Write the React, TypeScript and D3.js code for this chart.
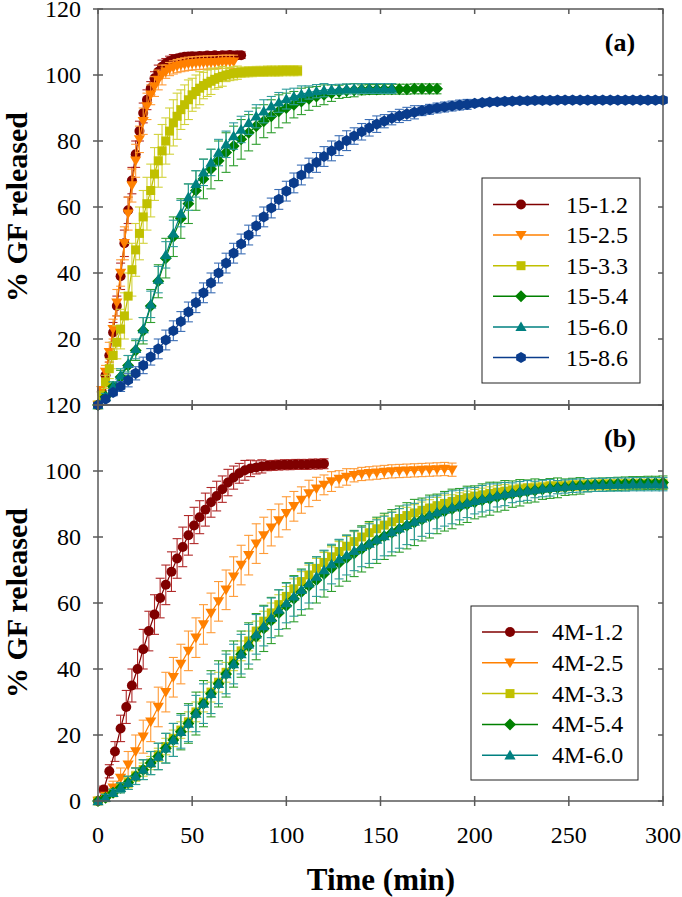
import React from "react";
import * as d3 from "d3";

// ---------- DATA ----------
const xTicks = [0, 50, 100, 150, 200, 250, 300];
const yTicks = [0, 20, 40, 60, 80, 100, 120];

// Panel (a) series – values at regular sampling intervals (min)
const step151 = 2;
const v151 = [0, 4, 9, 15, 22, 30, 39, 49, 59, 68, 76, 83, 88.5, 92.5, 96, 99, 101, 102.5, 103.5, 104.2, 104.7, 105, 105.3, 105.5, 105.6, 105.7, 105.6, 105.8, 105.7, 105.9, 105.8, 106, 105.8, 106, 105.9, 106.1, 105.9, 106, 106];
const e151 = [0, 1, 2, 2, 3, 3, 4, 4, 4, 4, 4, 3, 3, 3, 2, 2, 2, 2, 1.5, 1.5, 1.5, 1, 1, 1, 1, 1, 1, 1, 1, 1, 1, 1, 1, 1, 1, 1, 1, 1, 1];

const step152 = 2;
const v152 = [0, 4.5, 10, 16, 23, 31, 40, 49, 58, 66.5, 74, 80.5, 86, 90.5, 94, 96.5, 98.5, 100, 101, 101.8, 102.3, 102.7, 103, 103.2, 103.4, 103.5, 103.6, 103.7, 103.7, 103.8, 103.8, 103.9, 103.9, 104, 104, 104, 104];
const e152 = [0, 1, 2, 3, 3, 4, 4, 5, 5, 5, 5, 4, 4, 4, 3, 3, 3, 3, 2, 2, 2, 2, 2, 2, 2, 2, 2, 2, 2, 2, 2, 2, 2, 2, 2, 2, 2];

const step153 = 2;
const v153 = [0, 3, 7, 11, 15, 19, 23, 27, 33, 41, 47, 52, 57, 61, 65, 70, 74, 77, 80, 83, 85.5, 87.5, 89.5, 91, 92.5, 94, 95, 96, 96.8, 97.5, 98.1, 98.7, 99.2, 99.6, 100, 100.3, 100.5, 100.7, 100.8, 100.9, 101, 101, 101.1, 101.1, 101.1, 101.2, 101.2, 101.2, 101.2, 101.3, 101.3, 101.3, 101.3, 101.3];
const e153 = [0, 1, 2, 3, 4, 5, 6, 7, 7, 8, 8, 8, 8, 8, 8, 8, 8, 8, 7, 7, 7, 7, 6, 6, 6, 5, 5, 5, 4, 4, 4, 3, 3, 3, 2, 2, 2, 2, 1.5, 1.5, 1.5, 1.5, 1.5, 1.5, 1.5, 1.5, 1.5, 1.5, 1.5, 1.5, 1.5, 1.5, 1.5, 1.5];

const step154 = 4;
const v154 = [0, 2.5, 5.5, 8.5, 12, 16.5, 22.5, 30, 37.5, 44.5, 51, 56.5, 61, 65, 68.5, 71.5, 74, 76.5, 78.5, 80.5, 82.5, 84.5, 86, 87.5, 89, 90, 91, 92, 92.8, 93.5, 94, 94.5, 94.9, 95.2, 95.4, 95.5, 95.6, 95.6, 95.7, 95.7, 95.7, 95.7, 95.8, 95.8, 95.8, 95.8];
const e154 = [0, 1, 1.5, 2, 3, 3, 4, 5, 5, 6, 6, 6, 6, 6, 6, 6, 6, 6, 6, 6, 5.5, 5.5, 5, 5, 5, 4.5, 4, 4, 3.5, 3, 3, 2.5, 2, 2, 2, 1.5, 1.5, 1.5, 1.5, 1.5, 1.5, 1.5, 1.5, 1.5, 1.5, 1.5];

const step156 = 4;
const v156 = [0, 2.5, 5.5, 9, 12.5, 17, 23, 30.5, 38, 45.5, 52, 58, 63, 67, 70.5, 73.5, 76.5, 79, 81.5, 83.5, 85.5, 87.5, 89, 90.5, 91.7, 92.7, 93.5, 94.2, 94.7, 95.1, 95.4, 95.6, 95.7, 95.8, 95.8, 95.9, 95.9, 95.9, 95.9, 95.9];
const e156 = [0, 1, 1.5, 2, 2.5, 3, 3.5, 4, 4, 4, 4, 4, 4, 4, 4, 4, 4, 4, 4, 4, 3.5, 3.5, 3.5, 3, 3, 3, 2.5, 2.5, 2, 2, 2, 1.5, 1.5, 1.5, 1.5, 1.5, 1.5, 1.5, 1.5, 1.5];

const step158 = 4;
const v158 = [0, 1.8, 3.8, 5.6, 7.5, 9.6, 12, 14.6, 17, 19.7, 22.5, 25.3, 28.2, 31, 34, 37, 40, 43, 46, 48.8, 51.5, 54.3, 57, 59.7, 62.3, 64.8, 67.3, 69.7, 71.8, 73.5, 75.3, 77, 78.6, 80.1, 81.5, 82.8, 84, 85.1, 86, 86.9, 87.6, 88.2, 88.7, 89.2, 89.6, 90, 90.3, 90.6, 90.9, 91.1, 91.4, 91.6, 91.8, 91.9, 92, 92.1, 92.2, 92.2, 92.3, 92.3, 92.3, 92.4, 92.4, 92.4, 92.4, 92.4, 92.4, 92.4, 92.4, 92.4, 92.4, 92.4, 92.4, 92.4, 92.4, 92.4];
const e158 = [0, 0.5, 1, 1.5, 2, 2, 2.5, 2.5, 3, 3, 3, 3, 3, 3, 3, 3, 3, 3, 3, 3, 3, 3, 3, 3, 3, 3, 3, 3, 3, 3, 3, 3, 3, 3, 2.5, 2.5, 2.5, 2.5, 2, 2, 2, 2, 2, 1.5, 1.5, 1.5, 1.5, 1.5, 1.5, 1.5, 1, 1, 1, 1, 1, 1, 1, 1, 1, 1, 1, 1, 1, 1, 1, 1, 1, 1, 1, 1, 1, 1, 1, 1, 1, 1];

// Panel (b) series
const step4m12 = 3;
const v4m12 = [0, 3.5, 9, 15, 22, 28.5, 35, 40, 46, 51.5, 56.5, 61.5, 65.5, 69.5, 73.5, 77, 80.5, 83.5, 86, 88.3, 90.5, 92.4, 94.5, 96.5, 98, 99.3, 100.2, 100.8, 101.1, 101.4, 101.6, 101.7, 101.8, 101.9, 101.9, 102, 102, 102, 102.1, 102.1, 102.2];
const e4m12 = [0, 1, 2, 3, 4, 5, 5, 6, 6, 6, 6, 6, 6, 6, 6, 6, 6, 5.5, 5, 5, 4.5, 4.5, 4, 4, 3.5, 3, 3, 2.5, 2, 2, 1.5, 1.5, 1.5, 1.5, 1.5, 1.5, 1.5, 1.5, 1.5, 1.5, 1.5];

const step4m25 = 4;
const v4m25 = [0, 1.5, 4, 7, 11, 15, 19.5, 24, 28.5, 33, 37.5, 41.5, 45.5, 49.5, 53.5, 57, 60.5, 64, 68, 71.5, 74.5, 78, 80.5, 82.8, 85, 87.2, 89.3, 91.2, 93.2, 94.6, 95.8, 96.8, 97.6, 98.2, 98.7, 99.1, 99.3, 99.5, 99.7, 99.9, 100, 100.1, 100.2, 100.3, 100.4, 100.5, 100.6, 100.4];
const e4m25 = [0, 1, 2, 3, 4, 5, 5, 6, 6, 6, 6, 6, 6, 6, 6, 6, 6, 6, 6, 6, 6, 6, 5.5, 5.5, 5, 5, 4.5, 4, 4, 3.5, 3, 3, 2.5, 2.5, 2, 2, 2, 2, 2, 2, 2, 2, 2, 2, 2, 2, 2, 2];

const step4m33 = 4;
const v4m33 = [0, 1, 2.5, 4, 5.5, 7.5, 9.5, 11.5, 14, 16.5, 19, 21.5, 24, 27, 30, 33, 36, 39, 42.5, 45.5, 48.5, 51.5, 54.5, 57, 59.5, 62, 64.3, 66.5, 68.5, 70.5, 72.3, 74, 75.6, 77.2, 78.6, 80, 81.3, 82.5, 83.6, 84.6, 85.6, 86.5, 87.3, 88.1, 88.8, 89.5, 90.2, 90.8, 91.4, 91.9, 92.4, 92.8, 93.2, 93.6, 93.9, 94.2, 94.5, 94.7, 94.9, 95.1, 95.3, 95.4, 95.5, 95.6, 95.7, 95.8, 95.8, 95.9, 95.9, 96, 96, 96, 96, 96, 96, 96];
const e4m33 = [0, 0.5, 1, 1, 1.5, 1.5, 2, 2, 2, 2.5, 2.5, 2.5, 3, 3, 3, 3, 3, 3, 3, 3, 3, 3, 3, 3, 3, 3, 3, 3, 3, 3, 3, 3, 3, 3, 3, 3, 3, 3, 3, 3, 3, 2.5, 2.5, 2.5, 2.5, 2.5, 2.5, 2, 2, 2, 2, 2, 2, 2, 2, 1.5, 1.5, 1.5, 1.5, 1.5, 1.5, 1.5, 1.5, 1.5, 1.5, 1.5, 1.5, 1.5, 1.5, 1.5, 1.5, 1.5, 1.5, 1.5, 1.5, 1.5];

const step4m54 = 4;
const v4m54 = [0, 1, 2.5, 4, 5.5, 7.5, 9.5, 11.5, 13.5, 16, 18.5, 21, 23.5, 26.5, 29.5, 32.5, 35.5, 38.5, 41.5, 44.5, 47, 49.8, 52.3, 54.7, 57, 59.2, 61.3, 63.3, 65.2, 67, 68.8, 70.5, 72.1, 73.6, 75, 76.4, 77.7, 79, 80.2, 81.3, 82.4, 83.4, 84.4, 85.3, 86.2, 87, 87.8, 88.5, 89.2, 89.9, 90.5, 91.1, 91.6, 92.1, 92.6, 93, 93.4, 93.8, 94.1, 94.4, 94.7, 94.9, 95.1, 95.3, 95.5, 95.7, 95.8, 95.9, 96, 96.1, 96.2, 96.3, 96.3, 96.4, 96.4, 96.5];
const e4m54 = [0, 1, 1, 1.5, 2, 2.5, 3, 3.5, 4, 4.5, 5, 5.5, 6, 6.5, 7, 7, 7, 7, 7, 7, 7, 7, 7, 7, 7, 7, 7, 7, 7, 7, 7, 7, 7, 7, 7, 7, 7, 7, 7, 7, 7, 7, 7, 6.5, 6.5, 6, 6, 6, 5.5, 5.5, 5, 5, 5, 4.5, 4.5, 4, 4, 3.5, 3.5, 3, 3, 3, 2.5, 2.5, 2.5, 2, 2, 2, 2, 2, 2, 2, 2, 2, 2, 2];

const step4m60 = 4;
const v4m60 = [0, 1, 2.5, 4, 5.5, 7.5, 9.5, 11.5, 13.5, 16, 18.5, 21, 23.5, 26.5, 29.5, 32.5, 35.5, 38.5, 41.5, 44.5, 47.5, 50.5, 53, 55.5, 58, 60, 62, 64, 66, 68, 70, 71.8, 73.3, 74.5, 75.8, 77, 78, 79.2, 80.3, 81.5, 82.6, 83.7, 84.7, 85.7, 86.6, 87.5, 88.3, 89, 89.7, 90.4, 91, 91.6, 92.1, 92.6, 93, 93.4, 93.8, 94.1, 94.4, 94.7, 94.9, 95.1, 95.3, 95.5, 95.6, 95.7, 95.8, 95.8, 95.9, 95.9, 95.9, 96, 96, 96, 96, 96];
const e4m60 = [0, 1, 1, 1.5, 2, 2.5, 3, 3.5, 4, 4.5, 5, 5, 5.5, 5.5, 6, 6, 6, 6, 6, 6, 6, 6, 6, 6, 6, 6, 6, 6, 6, 6, 6, 6, 6, 6, 6, 6, 6, 6, 6, 6, 6, 6, 5.5, 5.5, 5.5, 5, 5, 5, 4.5, 4.5, 4, 4, 4, 3.5, 3.5, 3, 3, 3, 2.5, 2.5, 2.5, 2, 2, 2, 2, 2, 2, 2, 2, 2, 2, 2, 2, 2, 2, 2];

const namesA = ["15-1.2", "15-2.5", "15-3.3", "15-5.4", "15-6.0", "15-8.6"];
const namesB = ["4M-1.2", "4M-2.5", "4M-3.3", "4M-5.4", "4M-6.0"];

// ---------- STYLE ----------
type Shape = "circle" | "tdown" | "square" | "diamond" | "tup" | "hex";
const STY: Record<string, { c: string; e: string; shape: Shape }> = {
  "1.2": { c: "#800000", e: "#B02828", shape: "circle" },
  "2.5": { c: "#FF8000", e: "#FF9A35", shape: "tdown" },
  "3.3": { c: "#C0C000", e: "#D2D23A", shape: "square" },
  "5.4": { c: "#008000", e: "#2E9E2E", shape: "diamond" },
  "6.0": { c: "#008080", e: "#2E9C9C", shape: "tup" },
  "8.6": { c: "#0A3C8C", e: "#3A6DB5", shape: "hex" },
};

function markerPath(shape: Shape): string {
  switch (shape) {
    case "circle":
      return d3.symbol(d3.symbolCircle, 78)() as string;
    case "square":
      return "M-4.5,-4.5H4.5V4.5H-4.5Z";
    case "diamond":
      return "M0,-6L6,0L0,6L-6,0Z";
    case "tdown":
      return "M-5.6,-4.2L5.6,-4.2L0,5.5Z";
    case "tup":
      return "M0,-5.5L5.6,4.2L-5.6,4.2Z";
    case "hex": {
      const r = 5.6;
      const pts = d3.range(6).map((k) => {
        const a = (Math.PI / 3) * k + Math.PI / 6;
        return [r * Math.cos(a), r * Math.sin(a)];
      });
      return "M" + pts.map((p) => p[0].toFixed(2) + "," + p[1].toFixed(2)).join("L") + "Z";
    }
  }
}

interface Series {
  name: string;
  key: string;
  step: number;
  values: number[];
  errs: number[];
}

const seriesA: Series[] = [
  { name: namesA[0], key: "1.2", step: step151, values: v151, errs: e151 },
  { name: namesA[1], key: "2.5", step: step152, values: v152, errs: e152 },
  { name: namesA[2], key: "3.3", step: step153, values: v153, errs: e153 },
  { name: namesA[3], key: "5.4", step: step154, values: v154, errs: e154 },
  { name: namesA[4], key: "6.0", step: step156, values: v156, errs: e156 },
  { name: namesA[5], key: "8.6", step: step158, values: v158, errs: e158 },
];
const seriesB: Series[] = [
  { name: namesB[0], key: "1.2", step: step4m12, values: v4m12, errs: e4m12 },
  { name: namesB[1], key: "2.5", step: step4m25, values: v4m25, errs: e4m25 },
  { name: namesB[2], key: "3.3", step: step4m33, values: v4m33, errs: e4m33 },
  { name: namesB[3], key: "5.4", step: step4m54, values: v4m54, errs: e4m54 },
  { name: namesB[4], key: "6.0", step: step4m60, values: v4m60, errs: e4m60 },
];

const W = 682;
const H = 897;
const LEFT = 98;
const RIGHT = 663;
const AX = "#595959";
const FONT = "'Times New Roman', Times, 'Liberation Serif', 'DejaVu Serif', serif";

const x = d3.scaleLinear().domain([0, 300]).range([LEFT, RIGHT]);

function Panel({
  series,
  top,
  bottom,
  label,
  showZero,
  legend,
}: {
  series: Series[];
  top: number;
  bottom: number;
  label: string;
  showZero: boolean;
  legend: { x0: number; x1: number; y0: number; y1: number; first: number; gap: number; lx0: number; lx1: number; tx: number };
}) {
  const y = d3.scaleLinear().domain([0, 120]).range([bottom, top]);
  const line = d3
    .line<[number, number]>()
    .x((d) => x(d[0]))
    .y((d) => y(d[1]));
  const mid = (top + bottom) / 2;
  return (
    <g>
      {/* series */}
      {series.map((s) => {
        const st = STY[s.key];
        const pts: [number, number][] = s.values.map((v, i) => [i * s.step, v]);
        const mp = markerPath(st.shape);
        return (
          <g key={s.name}>
            <g stroke={st.e} strokeWidth={1.1}>
              {pts.map((p, i) => {
                const e = s.errs[i] ?? 0;
                if (!e) return null;
                const cx = x(p[0]);
                const y1 = y(p[1] + e);
                const y2 = y(p[1] - e);
                return (
                  <g key={i}>
                    <line x1={cx} x2={cx} y1={y1} y2={y2} />
                    <line x1={cx - 4.5} x2={cx + 4.5} y1={y1} y2={y1} />
                    <line x1={cx - 4.5} x2={cx + 4.5} y1={y2} y2={y2} />
                  </g>
                );
              })}
            </g>
            <path d={line(pts) as string} fill="none" stroke={st.c} strokeWidth={1.2} />
            <g fill={st.c}>
              {pts.map((p, i) => (
                <path key={i} d={mp} transform={`translate(${x(p[0])},${y(p[1])})`} />
              ))}
            </g>
          </g>
        );
      })}
      {/* frame */}
      <rect x={LEFT} y={top} width={RIGHT - LEFT} height={bottom - top} fill="none" stroke={AX} strokeWidth={1.5} />
      {/* y ticks */}
      {yTicks.map((t) => (
        <g key={"y" + t}>
          <line x1={LEFT - 5} x2={LEFT + 5} y1={y(t)} y2={y(t)} stroke={AX} strokeWidth={1.5} />
          <line x1={RIGHT - 5} x2={RIGHT} y1={y(t)} y2={y(t)} stroke={AX} strokeWidth={1.5} />
          {(t > 0 || showZero) && (
            <text x={81} y={y(t) + 8} textAnchor="end" fontSize={24} fontFamily={FONT} fill="#000">
              {t}
            </text>
          )}
        </g>
      ))}
      {/* x ticks */}
      {xTicks.map((t) => (
        <g key={"x" + t}>
          <line x1={x(t)} x2={x(t)} y1={bottom - 5} y2={bottom + 5} stroke={AX} strokeWidth={1.5} />
          <line x1={x(t)} x2={x(t)} y1={top} y2={top + 5} stroke={AX} strokeWidth={1.5} />
        </g>
      ))}
      {/* y title */}
      <text
        transform={`translate(27,${mid}) rotate(-90)`}
        textAnchor="middle"
        fontSize={30}
        fontWeight="bold"
        fontFamily={FONT}
        fill="#000"
      >
        % GF released
      </text>
      {/* panel label */}
      <text x={620} y={top + 42} textAnchor="middle" fontSize={26} fontWeight="bold" fontFamily={FONT} fill="#000">
        {label}
      </text>
      {/* legend */}
      <rect
        x={legend.x0}
        y={legend.y0}
        width={legend.x1 - legend.x0}
        height={legend.y1 - legend.y0}
        fill="#fff"
        stroke="#222"
        strokeWidth={1}
      />
      {series.map((s, i) => {
        const st = STY[s.key];
        const ly = legend.first + i * legend.gap;
        const lmx = (legend.lx0 + legend.lx1) / 2;
        return (
          <g key={"lg" + s.name}>
            <line x1={legend.lx0} x2={legend.lx1} y1={ly} y2={ly} stroke={st.c} strokeWidth={1.5} />
            <path d={markerPath(st.shape)} transform={`translate(${lmx},${ly})`} fill={st.c} />
            <text x={legend.tx} y={ly + 8} fontSize={24} fontFamily={FONT} fill="#000">
              {s.name}
            </text>
          </g>
        );
      })}
    </g>
  );
}

export default function App() {
  return (
    <svg
      width={W}
      height={H}
      viewBox={`0 0 ${W} ${H}`}
      style={{ position: "absolute", left: 0, top: 0, background: "#fff" }}
    >
      <rect x={0} y={0} width={W} height={H} fill="#fff" />
      <Panel
        series={seriesA}
        top={9}
        bottom={405}
        label="(a)"
        showZero={false}
        legend={{ x0: 482, x1: 640, y0: 178, y1: 383, first: 204.5, gap: 30.6, lx0: 493, lx1: 549, tx: 566 }}
      />
      <Panel
        series={seriesB}
        top={405}
        bottom={801}
        label="(b)"
        showZero={true}
        legend={{ x0: 471, x1: 638, y0: 606, y1: 780, first: 632, gap: 30.8, lx0: 482, lx1: 538, tx: 552 }}
      />
      {xTicks.map((t) => (
        <text key={"xl" + t} x={x(t)} y={843} textAnchor="middle" fontSize={24} fontFamily={FONT} fill="#000">
          {t}
        </text>
      ))}
      <text x={381} y={890} textAnchor="middle" fontSize={31} fontWeight="bold" fontFamily={FONT} fill="#000">
        Time (min)
      </text>
    </svg>
  );
}
